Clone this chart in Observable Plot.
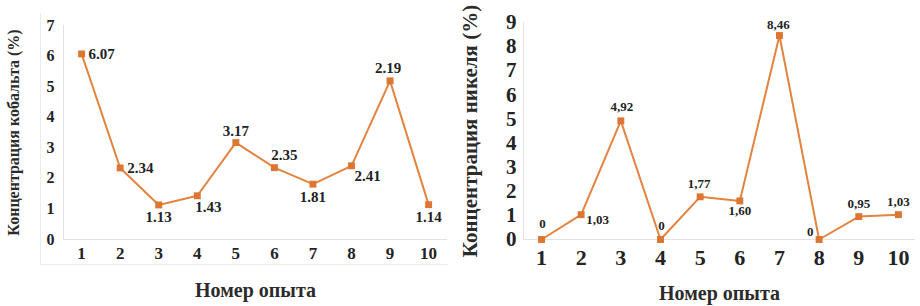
<!DOCTYPE html>
<html>
<head>
<meta charset="utf-8">
<script src="https://cdn.jsdelivr.net/npm/d3@7"></script>
<script src="https://cdn.jsdelivr.net/npm/@observablehq/plot@0.6"></script>
<style>
  html, body { margin: 0; padding: 0; background: #fff; }
  #wrap { position: relative; width: 920px; height: 306px; overflow: hidden; }
  .panel { position: absolute; top: 0; width: 460px; height: 306px; }
  #left { left: 0; }
  #right { left: 460px; }
  .outer { position: absolute; left: 40px; top: 13px; width: 408px; height: 252px;
           border-left: 1px solid #ececec; border-bottom: 1px solid #ececec; box-sizing: border-box; }
</style>
</head>
<body>
<div id="wrap">
  <div class="outer"></div>
  <div class="panel" id="left"></div>
  <div class="panel" id="right"></div>
</div>
<script>
// ---- data ----
const runs = [1, 2, 3, 4, 5, 6, 7, 8, 9, 10];
const cobaltValues = [6.07, 2.34, 1.13, 1.43, 3.17, 2.35, 1.81, 2.41, 5.19, 1.14];
const cobaltLabels = ["6.07", "2.34", "1.13", "1.43", "3.17", "2.35", "1.81", "2.41", "2.19", "1.14"];
const nickelValues = [0, 1.03, 4.92, 0, 1.77, 1.60, 8.46, 0, 0.95, 1.03];
const nickelLabels = ["0", "1,03", "4,92", "0", "1,77", "1,60", "8,46", "0", "0,95", "1,03"];
const cobaltTicks = [0, 1, 2, 3, 4, 5, 6, 7];
const nickelTicks = [0, 1, 2, 3, 4, 5, 6, 7, 8, 9];
const cobaltTitle = "Концентрация кобальта (%)";
const nickelTitle = "Концентрация никеля (%)";
const xTitle = "Номер опыта";

// ---- rendering ----
const LINE = "#E2843F";
const MARK = "#DC7632";
const INK = "#232323";
const FONT = "Liberation Serif";

function rows(values, labels) {
  return runs.map((r, i) => ({run: r, value: values[i], label: labels[i]}));
}

function build(cfg) {
  const data = rows(cfg.values, cfg.labels);
  const marks = [
    Plot.ruleX([cfg.xDomain[0]], {stroke: "#e2e2e2", strokeWidth: 1}),
    Plot.ruleY([0], {stroke: "#e2e2e2", strokeWidth: 1}),
    Plot.axisY(cfg.ticks, {tickSize: 0, tickPadding: cfg.yPad, fontSize: cfg.tickFont, label: null,
      fontFamily: FONT, fontWeight: "bold"}),
    Plot.axisX(runs, {tickSize: 0, tickPadding: cfg.xPad, fontSize: cfg.tickFont + 1, label: null,
      fontFamily: FONT, fontWeight: "bold"}),
    Plot.line(data, {x: "run", y: "value", stroke: LINE, strokeWidth: 2}),
    Plot.dot(data, {x: "run", y: "value", symbol: "square", r: 3.9, fill: MARK, stroke: "none"}),
    Plot.text([cfg.yTitle], {frameAnchor: "left", rotate: -90, dx: cfg.yTitleDx, textAnchor: "middle",
      lineAnchor: "middle", fontSize: cfg.yTitleFont, fill: "#2b2b2b", fontFamily: FONT, fontWeight: "bold"}),
    Plot.text([xTitle], {frameAnchor: "bottom", dy: cfg.xTitleDy, textAnchor: "middle", lineAnchor: "middle",
      fontSize: 20, fill: "#2b2b2b", fontFamily: FONT, fontWeight: "bold"})
  ];
  data.forEach((d, i) => {
    const p = cfg.place[i];
    marks.push(Plot.text([d], {x: "run", y: "value", text: "label", dx: p[0], dy: p[1],
      textAnchor: p[2] || "middle", fontSize: cfg.labelFont, fill: INK, fontFamily: FONT, fontWeight: "bold"}));
  });
  return Plot.plot({
    width: 460,
    height: 306,
    marginLeft: 63,
    marginRight: cfg.mr,
    marginTop: cfg.mt,
    marginBottom: 67,
    x: {domain: cfg.xDomain},
    y: {domain: cfg.yDomain},
    style: {fontFamily: FONT, fontWeight: "bold", color: INK, background: "transparent", overflow: "visible"},
    marks
  });
}

document.getElementById("left").append(build({
  values: cobaltValues, labels: cobaltLabels, ticks: cobaltTicks,
  xDomain: [0.53, 10.49], yDomain: [0, 7], mr: 13, mt: 25,
  yPad: 9, xPad: 7, tickFont: 16, labelFont: 15,
  yTitle: cobaltTitle, yTitleDx: -50, yTitleFont: 16, xTitleDy: 51,
  place: [[7, 0, "start"], [7, 0, "start"], [0, 12], [-2, 11, "start"], [0, -11],
          [10, -12], [0, 13], [16, 10], [-2, -13], [0, 13]]
}));

document.getElementById("right").append(build({
  values: nickelValues, labels: nickelLabels, ticks: nickelTicks,
  xDomain: [0.546, 10.43], yDomain: [0, 9], mr: 5, mt: 22,
  yPad: 7, xPad: 10, tickFont: 21, labelFont: 13,
  yTitle: nickelTitle, yTitleDx: -53, yTitleFont: 21, xTitleDy: 54,
  place: [[1, -16], [5, 5, "start"], [1, -14], [1, -14], [-1, -13],
          [0, 10], [-1, -11], [-9, -8], [0, -13], [0, -13]]
}));
</script>
</body>
</html>
